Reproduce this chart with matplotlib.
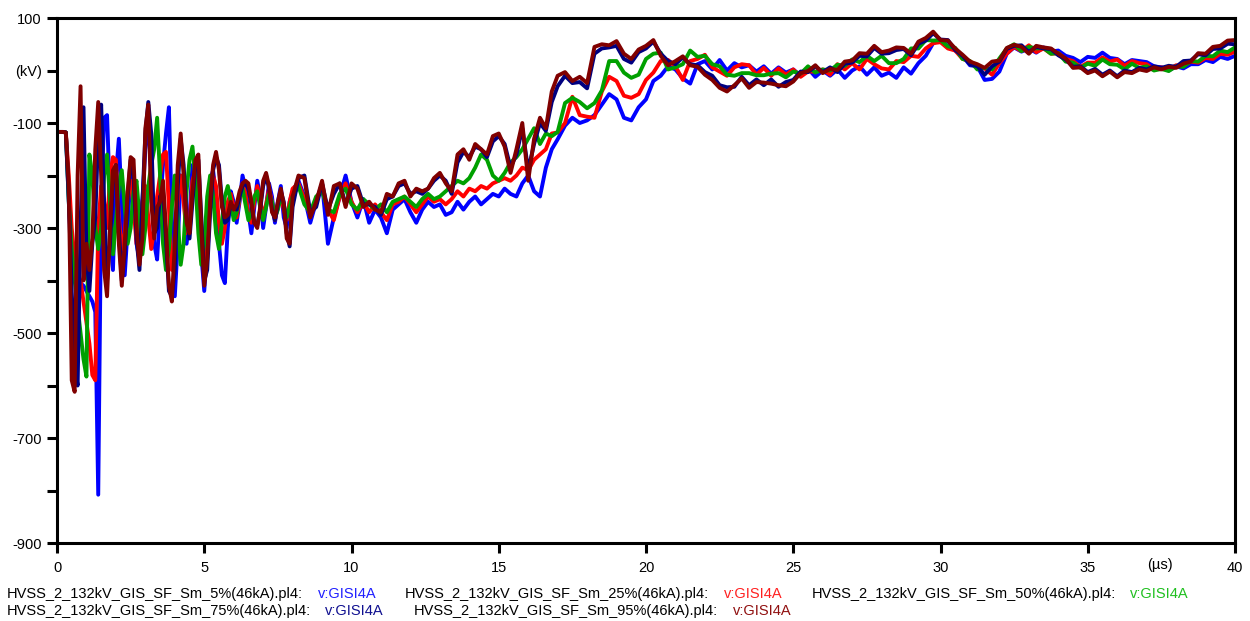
import numpy as np
import matplotlib
matplotlib.use("Agg")
import matplotlib.pyplot as plt

plt.rcParams['font.family'] = ['Liberation Sans', 'DejaVu Sans']

# time base (us): 0.1 us steps to 8 us, 0.2 us to 17 us, 0.25 us to 40 us
t_early = np.round(np.arange(0.0, 8.0, 0.1), 2)
t_mid = np.round(np.arange(8.0, 17.0, 0.2), 2)
t_late = np.linspace(17.0, 40.0, 93)
t = np.concatenate([t_early, t_mid, t_late])

# v:GISI4A (kV) for each case
v_5 = [
    -117, -117, -117, -118, -250, -360, -395, -400, -405, -410,
    -420, -430, -440, -460, -808, -250, -90, -85, -250, -380,
    -200, -130, -260, -390, -300, -190, -200, -330, -360, -250,
    -150, -90, -200, -330, -360, -260, -180, -120, -70, -280,
    -430, -330, -200, -220, -330, -280, -180, -200, -260, -350,
    -420, -340, -210, -190, -240, -330, -390, -405, -300, -230,
    -250, -290, -250, -200, -225, -270, -310, -260, -210, -240,
    -300, -260, -215, -240, -290, -250, -220, -280, -300, -250,
    # 8 - 16.8
    -230, -210, -240, -290, -250, -215, -330, -280, -240, -200,
    -250, -280, -245, -290, -265, -280, -310, -265, -255, -245,
    -270, -290, -265, -250, -260, -255, -275, -270, -250, -265,
    -250, -240, -255, -245, -235, -240, -225, -235, -240, -215,
    -200, -230, -240, -185, -150,
    # 17 - 40
    -131, -105, -90, -100, -95, -85, -65, -45, -55, -90,
    -95, -70, -55, -20, -10, 8, 2, -15, -25, 12,
    18, 2, 20, 0, 14, 6, 10, -2, 8, -6,
    6, -4, 2, -10, 4, -12, 0, -10, 2, -14,
    0, 8, -8, 6, -10, -4, -14, 6, -6, 14,
    28, 52, 58, 56, 38, 28, 10, 8, -18, -16,
    -2, 32, 44, 36, 42, 34, 44, 36, 38, 28,
    24, 16, 26, 24, 34, 24, 22, 12, 20, 18,
    16, 8, 6, 0, 8, 4, 12, 12, 20, 16,
    26, 22, 28,
]

v_25 = [
    -117, -117, -117, -118, -200, -300, -360, -390, -400, -440,
    -480, -520, -580, -590, -300, -220, -250, -300, -200, -165,
    -170, -280, -340, -310, -230, -210, -260, -330, -300, -250,
    -220, -280, -340, -300, -240, -200, -160, -155, -260, -380,
    -350, -250, -200, -250, -310, -290, -210, -190, -230, -310,
    -360, -300, -230, -200, -220, -290, -330, -300, -250, -235,
    -260, -280, -245, -215, -235, -275, -290, -250, -220, -245,
    -280, -255, -225, -250, -285, -260, -235, -265, -285, -250,
    # 8 - 16.8
    -225, -215, -245, -275, -245, -225, -265, -285, -240, -215,
    -250, -270, -250, -270, -255, -270, -285, -255, -250, -240,
    -255, -270, -255, -240, -250, -245, -255, -245, -230, -240,
    -225, -230, -220, -225, -215, -210, -205, -210, -200, -185,
    -190, -170, -160, -150, -120,
    # 17 - 40
    -118, -100, -50, -85, -88, -90, -40, -12, -20, -48,
    -52, -45, -18, -4, 18, 20, 8, -18, 18, 22,
    30, 6, -2, -10, 6, 12, 10, -8, 5, -10,
    4, -8, 2, -12, -2, -2, 2, -8, 12, 2,
    14, 2, 22, 12, 4, 2, 18, 16, 28, 26,
    42, 52, 54, 42, 38, 22, 18, 6, 4, -8,
    14, 32, 45, 37, 48, 35, 42, 32, 33, 22,
    18, 7, 15, 15, 25, 17, 21, 9, 18, 14,
    12, 2, 6, 2, 10, 9, 17, 15, 24, 22,
    32, 30, 36,
]

v_50 = [
    -117, -117, -117, -118, -250, -340, -400, -450, -500, -550,
    -583, -160, -200, -300, -340, -300, -200, -160, -250, -350,
    -290, -220, -190, -260, -330, -300, -230, -210, -280, -350,
    -300, -220, -180, -150, -90, -200, -330, -380, -340, -260,
    -200, -280, -370, -330, -230, -170, -145, -210, -310, -370,
    -330, -240, -200, -240, -310, -340, -290, -240, -220, -250,
    -285, -270, -240, -225, -255, -285, -270, -240, -230, -260,
    -285, -260, -235, -250, -280, -265, -240, -255, -280, -260,
    # 8 - 16.8
    -240, -220, -255, -270, -240, -230, -265, -270, -235, -225,
    -255, -265, -245, -255, -265, -255, -270, -250, -245, -240,
    -250, -260, -245, -235, -245, -240, -230, -220, -210, -215,
    -205, -185, -160, -170, -200, -210, -195, -175, -165, -150,
    -130, -110, -140, -120, -125,
    # 17 - 40
    -117, -62, -52, -60, -72, -62, -38, 18, 18, -4,
    -14, -8, 22, 32, 34, 2, 6, 12, 38, 26,
    28, 12, 8, -8, -10, -5, -5, -9, -9, -6,
    -5, -13, -2, -6, 8, -4, 2, 0, 11, 9,
    21, 16, 28, 18, 28, 14, 14, 22, 42, 42,
    58, 57, 58, 46, 43, 22, 18, 2, 5, 2,
    23, 42, 50, 37, 45, 42, 43, 32, 33, 17,
    15, 5, 13, 9, 21, 12, 11, 2, 13, 5,
    8, 0, 3, -1, 8, 7, 18, 17, 28, 27,
    38, 35, 44,
]

v_75 = [
    -117, -117, -117, -118, -240, -420, -560, -600, -300, -70,
    -350, -420, -330, -280, -120, -65, -250, -400, -330, -210,
    -180, -300, -400, -350, -240, -170, -200, -320, -380, -250,
    -120, -60, -120, -310, -300, -240, -230, -320, -420, -430,
    -380, -220, -130, -180, -280, -320, -250, -180, -170, -280,
    -400, -380, -270, -190, -165, -180, -250, -290, -285, -255,
    -260, -265, -240, -220, -215, -225, -255, -290, -295, -265,
    -220, -200, -225, -265, -285, -255, -230, -250, -310, -335,
    # 8 - 16.8
    -260, -205, -200, -270, -260, -215, -265, -235, -215, -255,
    -225, -220, -255, -255, -260, -275, -245, -240, -220, -215,
    -235, -230, -235, -225, -210, -200, -210, -235, -175, -155,
    -165, -145, -150, -165, -135, -125, -140, -185, -160, -110,
    -190, -140, -100, -115, -60,
    # 17 - 40
    -30, -10, -24, -22, -34, 32, 42, 44, 47, 22,
    15, 35, 42, 55, 32, 18, 12, 25, 12, 10,
    -3, -10, -28, -32, -31, -12, -28, -17, -28, -17,
    -31, -22, -18, -2, -3, 8, -3, 6, -3, 13,
    15, 28, 27, 43, 32, 33, 39, 41, 29, 51,
    57, 71, 59, 58, 39, 28, 12, 8, -8, 8,
    17, 41, 47, 48, 35, 45, 42, 41, 29, 21,
    7, 8, -3, 3, -8, 0, -11, 0, -3, 5,
    2, 8, 5, 9, 7, 18, 19, 31, 29, 41,
    42, 51, 50,
]

v_95 = [
    -117, -117, -117, -118, -220, -590, -612, -200, -30, -400,
    -330, -380, -320, -150, -60, -200, -380, -430, -300, -190,
    -180, -330, -410, -330, -230, -165, -170, -300, -370, -320,
    -110, -65, -250, -320, -260, -250, -210, -300, -410, -440,
    -330, -180, -120, -200, -290, -310, -230, -170, -160, -300,
    -410, -360, -250, -180, -155, -190, -260, -280, -275, -250,
    -265, -255, -230, -215, -210, -215, -250, -290, -300, -260,
    -210, -195, -220, -270, -280, -250, -225, -255, -320, -330,
    # 8 - 16.8
    -240, -200, -205, -280, -250, -210, -275, -220, -215, -260,
    -215, -225, -260, -250, -265, -270, -235, -240, -215, -210,
    -240, -225, -230, -225, -205, -195, -215, -230, -160, -150,
    -170, -140, -150, -160, -125, -120, -145, -195, -150, -100,
    -210, -130, -90, -110, -40,
    # 17 - 40
    -10, -3, -20, -12, -24, 45, 50, 48, 56, 32,
    22, 40, 47, 58, 28, 10, 18, 27, 10, 7,
    -8, -18, -33, -40, -28, -15, -33, -22, -23, -25,
    -28, -30, -21, -5, -1, 10, -5, 3, 1, 17,
    19, 33, 32, 47, 35, 38, 44, 43, 32, 55,
    62, 74, 58, 57, 42, 30, 17, 12, 5, 17,
    19, 43, 49, 45, 32, 47, 44, 42, 32, 23,
    5, 6, -5, 0, -11, -2, -13, -3, -5, 2,
    -1, 6, 2, 7, 5, 13, 17, 33, 32, 45,
    47, 57, 58,
]

cases = ['5%', '25%', '50%', '75%', '95%']
series = [v_5, v_25, v_50, v_75, v_95]
colors = ['#0000ff', '#ff0000', '#00a000', '#000080', '#800000']
legend_colors = ['#2020ff', '#ff2020', '#20c020', '#101090', '#901010']

fig = plt.figure(figsize=(12.5, 6.21), dpi=100)
ax = fig.add_axes([0.0456, 0.1256, 0.9424, 0.8454])

for v, c in zip(series, colors):
    ax.plot(t, v, color=c, lw=2.8, solid_joinstyle='round')

ax.set_xlim(0, 40)
ax.set_ylim(-900, 100)

ax.set_xticks(np.arange(0, 41, 5))
ax.set_xticklabels([str(x) for x in range(0, 41, 5)])
yt = np.arange(-900, 101, 100)
ax.set_yticks(yt)
ylab = []
for y in yt:
    if y == 0:
        ylab.append('(kV)')
    elif y % 200 != 0:
        ylab.append(str(y))
    else:
        ylab.append('')
ax.set_yticklabels(ylab)

ax.tick_params(direction='out', length=7, width=2.2, labelsize=10.5, color='black')
ax.tick_params(axis='x', pad=6)
ax.tick_params(axis='y', pad=4)
for s in ax.spines.values():
    s.set_linewidth(2.2)

# unit label for the time axis, sitting on the tick label row
ax.text(37.45, -0.042, '(\u00b5s)', transform=ax.get_xaxis_transform(),
        ha='center', va='center', fontsize=10.5)

# two-row legend under the axes
W, H = 1250.0, 621.0
label_pos = [(7, 594, 318), (405, 594, 724), (812, 594, 1130),
             (7, 611, 325), (414, 611, 733)]
for case, lc, (xl, yl, xv) in zip(cases, legend_colors, label_pos):
    fig.text(xl / W, 1 - yl / H, 'HVSS_2_132kV_GIS_SF_Sm_%s(46kA).pl4:' % case,
             ha='left', va='center', fontsize=10.5)
    fig.text(xv / W, 1 - yl / H, 'v:GISI4A', color=lc,
             ha='left', va='center', fontsize=10.5)

fig.savefig('out.png', dpi=100)
